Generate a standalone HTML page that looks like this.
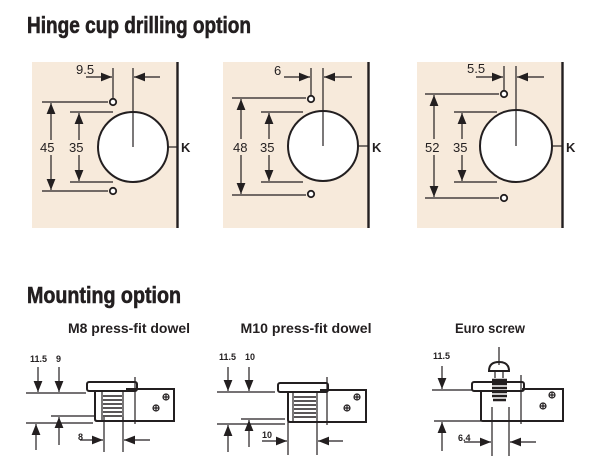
<!DOCTYPE html>
<html><head><meta charset="utf-8"><style>
html,body{margin:0;padding:0;background:#fff;}
svg{display:block;}
text{font-family:"Liberation Sans Narrow","Liberation Sans",sans-serif;fill:#231f20;}
</style></head><body>
<svg width="611" height="476" viewBox="0 0 611 476" xmlns="http://www.w3.org/2000/svg">
<defs>
<marker id="ah" viewBox="0 0 10 10" refX="10" refY="5" markerWidth="11" markerHeight="11" markerUnits="userSpaceOnUse" orient="auto"><path d="M0,1 L10,5 L0,9 z" fill="#231f20"/></marker>
</defs>
<text x="27" y="33" font-size="23" font-weight="bold" stroke="#231f20" stroke-width="0.6" textLength="224" lengthAdjust="spacingAndGlyphs">Hinge cup drilling option</text>
<text x="27" y="303" font-size="23" font-weight="bold" stroke="#231f20" stroke-width="0.6" textLength="154" lengthAdjust="spacingAndGlyphs">Mounting option</text>

<g stroke="#231f20" fill="none" stroke-width="1.2">
<!-- panel 1 -->
<rect x="32" y="62" width="145" height="166" fill="#f7eadb" stroke="none"/>
<line x1="177.5" y1="62" x2="177.5" y2="228" stroke-width="2.4"/>
<line x1="168" y1="147" x2="177" y2="147"/>
<circle cx="133" cy="147" r="35" fill="#fff" stroke-width="2"/>
<circle cx="113" cy="102" r="3.2" fill="#fff" stroke-width="1.8"/>
<circle cx="113" cy="191" r="3.2" fill="#fff" stroke-width="1.8"/>
<line x1="42" y1="102" x2="108" y2="102"/><line x1="42" y1="191" x2="108" y2="191"/>
<line x1="70" y1="112" x2="113" y2="112"/><line x1="70" y1="182" x2="113" y2="182"/>
<line x1="51" y1="140" x2="51" y2="103" marker-end="url(#ah)"/><line x1="51" y1="155" x2="51" y2="190" marker-end="url(#ah)"/>
<line x1="79" y1="140" x2="79" y2="113" marker-end="url(#ah)"/><line x1="79" y1="155" x2="79" y2="181" marker-end="url(#ah)"/>
<line x1="113" y1="68" x2="113" y2="98"/><line x1="133" y1="68" x2="133" y2="147"/>
<line x1="86" y1="77" x2="112" y2="77" marker-end="url(#ah)"/><line x1="160" y1="77" x2="134" y2="77" marker-end="url(#ah)"/>
<!-- panel 2 -->
<rect x="223" y="62" width="145" height="166" fill="#f7eadb" stroke="none"/>
<line x1="368.5" y1="62" x2="368.5" y2="228" stroke-width="2.4"/>
<line x1="358" y1="146" x2="368" y2="146"/>
<circle cx="323" cy="146" r="35" fill="#fff" stroke-width="2"/>
<circle cx="311" cy="99" r="3.2" fill="#fff" stroke-width="1.8"/>
<circle cx="311" cy="194" r="3.2" fill="#fff" stroke-width="1.8"/>
<line x1="232" y1="98" x2="306" y2="98"/><line x1="232" y1="195" x2="306" y2="195"/>
<line x1="261" y1="112" x2="303" y2="112"/><line x1="261" y1="182" x2="303" y2="182"/>
<line x1="241" y1="139" x2="241" y2="99" marker-end="url(#ah)"/><line x1="241" y1="155" x2="241" y2="194" marker-end="url(#ah)"/>
<line x1="269" y1="139" x2="269" y2="113" marker-end="url(#ah)"/><line x1="269" y1="155" x2="269" y2="181" marker-end="url(#ah)"/>
<line x1="311" y1="68" x2="311" y2="95"/><line x1="323" y1="68" x2="323" y2="146"/>
<line x1="284" y1="77" x2="310" y2="77" marker-end="url(#ah)"/><line x1="352" y1="77" x2="324" y2="77" marker-end="url(#ah)"/>
<!-- panel 3 -->
<rect x="417" y="62" width="145" height="166" fill="#f7eadb" stroke="none"/>
<line x1="562.5" y1="62" x2="562.5" y2="228" stroke-width="2.4"/>
<line x1="552" y1="146" x2="562" y2="146"/>
<circle cx="516" cy="146" r="36" fill="#fff" stroke-width="2"/>
<circle cx="504" cy="94" r="3.2" fill="#fff" stroke-width="1.8"/>
<circle cx="504" cy="198" r="3.2" fill="#fff" stroke-width="1.8"/>
<line x1="425" y1="94" x2="499" y2="94"/><line x1="425" y1="198" x2="499" y2="198"/>
<line x1="454" y1="112" x2="497" y2="112"/><line x1="454" y1="182" x2="497" y2="182"/>
<line x1="434" y1="139" x2="434" y2="95" marker-end="url(#ah)"/><line x1="434" y1="155" x2="434" y2="197" marker-end="url(#ah)"/>
<line x1="462" y1="139" x2="462" y2="113" marker-end="url(#ah)"/><line x1="462" y1="155" x2="462" y2="181" marker-end="url(#ah)"/>
<line x1="504" y1="66" x2="504" y2="90"/><line x1="516" y1="66" x2="516" y2="146"/>
<line x1="476" y1="77" x2="503" y2="77" marker-end="url(#ah)"/><line x1="544" y1="77" x2="517" y2="77" marker-end="url(#ah)"/>
</g>
<g font-size="13">
<text x="76" y="74">9.5</text><text x="40" y="152">45</text><text x="69" y="152">35</text><text x="181" y="152" font-weight="bold">K</text>
<text x="274" y="75">6</text><text x="233" y="152">48</text><text x="260" y="152">35</text><text x="372" y="152" font-weight="bold">K</text>
<text x="467" y="73">5.5</text><text x="425" y="152">52</text><text x="453" y="152">35</text><text x="566" y="152" font-weight="bold">K</text>
</g>

<g font-size="14" font-weight="bold" text-anchor="middle">
<text x="129" y="333" textLength="122" lengthAdjust="spacingAndGlyphs">M8 press-fit dowel</text>
<text x="306" y="333" textLength="131" lengthAdjust="spacingAndGlyphs">M10 press-fit dowel</text>
<text x="490" y="333" textLength="70" lengthAdjust="spacingAndGlyphs">Euro screw</text>
</g>
<g font-size="9" font-weight="bold">
<text x="30" y="362">11.5</text><text x="56" y="362">9</text>
<text x="219" y="360">11.5</text><text x="245" y="360">10</text>
<text x="433" y="359">11.5</text>
<text x="78" y="440">8</text><text x="262" y="438">10</text><text x="458" y="441">6.4</text>
</g>
<g stroke="#231f20" fill="none" stroke-width="1.2">
<!-- M8 -->
<line x1="38" y1="367" x2="38" y2="392" marker-end="url(#ah)"/><line x1="59" y1="367" x2="59" y2="392" marker-end="url(#ah)"/>
<line x1="26" y1="393" x2="86" y2="393"/><line x1="51" y1="416" x2="95" y2="416"/><line x1="26" y1="423" x2="93" y2="423"/>
<line x1="36" y1="450" x2="36" y2="424" marker-end="url(#ah)"/><line x1="59" y1="445" x2="59" y2="417" marker-end="url(#ah)"/>
<rect x="87" y="382" width="50" height="9" rx="2" stroke-width="2"/>
<path d="M95,391 V419 Q95,421 97,421 H126" stroke-width="2"/>
<path d="M102,391 V420 M123,391 V420" />
<path d="M103,396 H122 M103,400 H122 M103,404 H122 M103,408 H122 M103,412 H122 M103,416 H122" stroke-width="1.5"/>
<path d="M126,389 H174 V421 H126" stroke-width="2"/>
<line x1="135" y1="377" x2="135" y2="424"/>
<line x1="104" y1="417" x2="104" y2="452"/><line x1="123" y1="417" x2="123" y2="452"/>
<line x1="80" y1="440" x2="103" y2="440" marker-end="url(#ah)"/><line x1="150" y1="440" x2="124" y2="440" marker-end="url(#ah)"/>
<circle cx="166" cy="397" r="3"/><path d="M163,397 H169 M166,394 V400"/>
<circle cx="156" cy="408" r="3"/><path d="M153,408 H159 M156,405 V411"/>
<!-- M10 -->
<line x1="228" y1="367" x2="228" y2="391" marker-end="url(#ah)"/><line x1="249" y1="367" x2="249" y2="391" marker-end="url(#ah)"/>
<line x1="217" y1="392" x2="275" y2="392"/><line x1="241" y1="419" x2="285" y2="419"/><line x1="217" y1="424" x2="285" y2="424"/>
<line x1="228" y1="452" x2="228" y2="425" marker-end="url(#ah)"/><line x1="249" y1="447" x2="249" y2="420" marker-end="url(#ah)"/>
<rect x="278" y="383" width="50" height="9" rx="2" stroke-width="2"/>
<path d="M288,392 V420 Q288,422 290,422 H320" stroke-width="2"/>
<path d="M293,392 V421 M317,392 V421"/>
<path d="M294,397 H316 M294,401 H316 M294,405 H316 M294,409 H316 M294,413 H316 M294,417 H316" stroke-width="1.5"/>
<path d="M320,390 H366 V422 H320" stroke-width="2"/>
<line x1="327" y1="377" x2="327" y2="425"/>
<line x1="288" y1="422" x2="288" y2="455"/><line x1="317" y1="422" x2="317" y2="455"/>
<line x1="262" y1="441" x2="287" y2="441" marker-end="url(#ah)"/><line x1="343" y1="441" x2="318" y2="441" marker-end="url(#ah)"/>
<circle cx="357" cy="397" r="3"/><path d="M354,397 H360 M357,394 V400"/>
<circle cx="347" cy="408" r="3"/><path d="M344,408 H350 M347,405 V411"/>
<!-- Euro -->
<line x1="442" y1="366" x2="442" y2="389" marker-end="url(#ah)"/>
<line x1="432" y1="390" x2="472" y2="390"/><line x1="434" y1="421" x2="481" y2="421"/>
<line x1="442" y1="451" x2="442" y2="422" marker-end="url(#ah)"/>
<line x1="499" y1="347" x2="499" y2="365"/>
<path d="M489,371 Q489,362 499,362 Q509,362 509,371 Z" stroke-width="2"/>
<path d="M495,371 V378 M503,371 V378"/>
<rect x="472" y="382" width="52" height="9" rx="2" stroke-width="2"/>
<path d="M481,391 V420 Q481,421 483,421 H522" stroke-width="2"/>
<path d="M522,389 H563 V421 H522" stroke-width="2"/>
<path d="M492,380 H507 M492,384 H507 M492,388 H507 M492,392 H507 M492,396 H507 M493,400 H506" stroke-width="2.6"/>
<line x1="521" y1="375" x2="521" y2="424"/>
<line x1="492" y1="407" x2="492" y2="456"/><line x1="509" y1="407" x2="509" y2="456"/>
<line x1="464" y1="442" x2="491" y2="442" marker-end="url(#ah)"/><line x1="536" y1="442" x2="510" y2="442" marker-end="url(#ah)"/>
<circle cx="552" cy="395" r="3"/><path d="M549,395 H555 M552,392 V398"/>
<circle cx="543" cy="406" r="3"/><path d="M540,406 H546 M543,403 V409"/>
</g>
</svg>
</body></html>
